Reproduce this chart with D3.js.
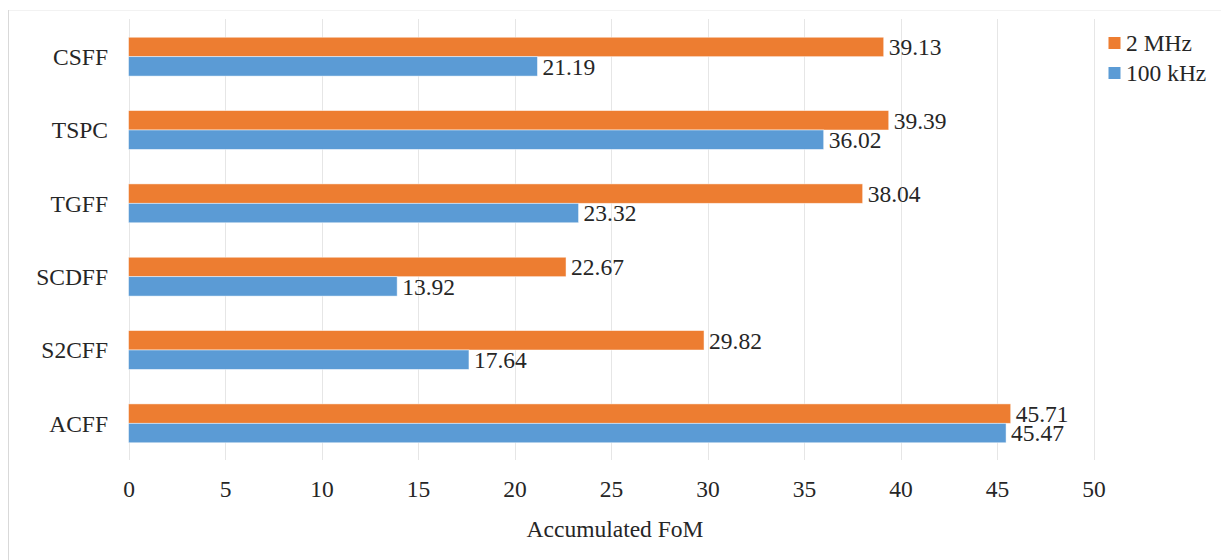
<!DOCTYPE html>
<html>
<head>
<meta charset="utf-8">
<script src="https://cdn.jsdelivr.net/npm/d3@7"></script>
<style>
  html, body { margin: 0; padding: 0; background: #fff; }
  svg text { font-family: "Liberation Serif", Tinos, "Times New Roman", Times, serif !important; }
</style>
</head>
<body>
<svg id="chart" width="1221" height="560"></svg>
<script>
const categories = ["CSFF", "TSPC", "TGFF", "SCDFF", "S2CFF", "ACFF"];
const seriesNames = ["2 MHz", "100 kHz"];
const values2MHz = [39.13, 39.39, 38.04, 22.67, 29.82, 45.71];
const values100kHz = [21.19, 36.02, 23.32, 13.92, 17.64, 45.47];
const xTicks = [0, 5, 10, 15, 20, 25, 30, 35, 40, 45, 50];
const colors = ["#ED7D31", "#5B9BD5"];

const FS = 23.5;
const svg = d3.select("#chart");
const plotLeft = 128.5, plotRight = 1093.5, plotTop = 20, plotBottom = 460;

const x = d3.scaleLinear().domain([0, 50]).range([plotLeft, plotRight]);
const y = d3.scaleBand().domain(categories).range([plotTop, plotBottom]).paddingInner(0.47).paddingOuter(0.235);
const ySub = d3.scaleBand().domain(seriesNames).range([0, y.bandwidth()]);

// frame lines
svg.append("line").attr("x1", 8.5).attr("x2", 1221).attr("y1", 10.5).attr("y2", 10.5).attr("stroke", "#f2f2f2");
svg.append("line").attr("x1", 8.5).attr("x2", 8.5).attr("y1", 10).attr("y2", 560).attr("stroke", "#d9d9d9");

// gridlines
svg.append("g").selectAll("line").data(xTicks).join("line")
  .attr("x1", d => Math.round(x(d)) + 0.5).attr("x2", d => Math.round(x(d)) + 0.5)
  .attr("y1", plotTop - 1).attr("y2", plotBottom)
  .attr("stroke", "#e6e6e6").attr("stroke-width", 1);

// x axis tick labels
const xAxis = d3.axisBottom(x).tickValues(xTicks).tickSize(0).tickPadding(0);
const gx = svg.append("g").attr("transform", `translate(0,${plotBottom})`).call(xAxis);
gx.select(".domain").remove();
gx.selectAll("text").attr("y", 36.5).attr("dy", null).attr("font-size", FS).attr("fill", "#262626");

// y axis labels
const yAxis = d3.axisLeft(y).tickSize(0).tickPadding(0);
const gy = svg.append("g").attr("transform", `translate(108,0)`).call(yAxis);
gy.select(".domain").remove();
gy.selectAll("text").attr("x", 0).attr("font-size", FS).attr("dy", "0.35em").attr("fill", "#262626");

const data = [];
categories.forEach((c, i) => {
  data.push({cat: c, series: seriesNames[0], value: values2MHz[i], color: colors[0]});
  data.push({cat: c, series: seriesNames[1], value: values100kHz[i], color: colors[1]});
});

// bars
svg.append("g").selectAll("rect").data(data).join("rect")
  .attr("x", x(0))
  .attr("y", d => y(d.cat) + ySub(d.series))
  .attr("width", d => x(d.value) - x(0))
  .attr("height", ySub.bandwidth())
  .attr("fill", d => d.color)
  .attr("stroke", "#ffffff").attr("stroke-opacity", 0.6).attr("stroke-width", 0.8);

// data labels
svg.append("g").selectAll("text").data(data).join("text")
  .attr("x", d => x(d.value) + 5)
  .attr("y", d => y(d.cat) + ySub(d.series) + ySub.bandwidth() / 2)
  .attr("dy", "0.35em")
  .attr("font-size", FS)
  .attr("fill", "#262626")
  .text(d => d.value.toFixed(2));

// x axis title
svg.append("text").attr("x", (plotLeft + plotRight) / 2 + 4).attr("y", 537)
  .attr("text-anchor", "middle").attr("font-size", FS).attr("fill", "#262626")
  .text("Accumulated FoM");

// legend
const lg = svg.append("g");
seriesNames.forEach((s, i) => {
  const yy = 43 + i * 30;
  lg.append("rect").attr("x", 1108.5).attr("y", yy - 6).attr("width", 12).attr("height", 12).attr("fill", colors[i]);
  lg.append("text").attr("x", 1126).attr("y", yy).attr("dy", "0.35em").attr("font-size", FS).attr("fill", "#262626").text(s);
});
</script>
</body>
</html>
